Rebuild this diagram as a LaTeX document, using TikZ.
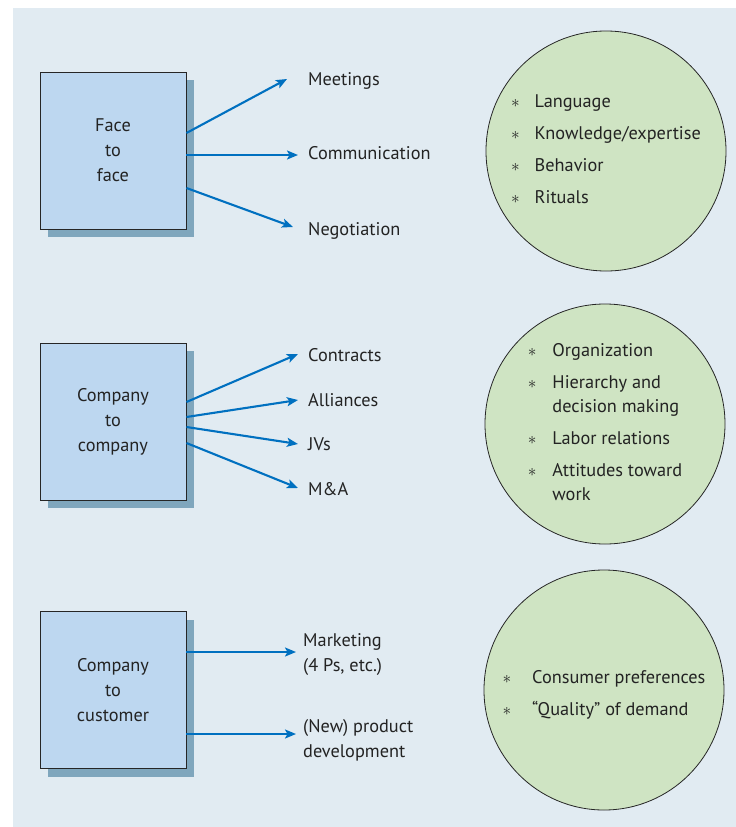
\documentclass[tikz,border=0pt]{standalone}
\usepackage{fontspec}
\setmainfont{PT Sans}
\usetikzlibrary{arrows.meta,calc,shadows}

\definecolor{bgblue}{RGB}{225,235,242}
\definecolor{boxblue}{RGB}{189,215,240}
\definecolor{boxshadow}{RGB}{127,166,189}
\definecolor{arrowblue}{RGB}{0,112,192}
\definecolor{circgreen}{RGB}{207,228,195}
\definecolor{txtgrey}{RGB}{35,35,35}

\begin{document}
\begin{tikzpicture}[x=1pt,y=-1pt,
  level/.style={draw=black!85, line width=0.9pt, fill=boxblue, minimum width=146pt, minimum height=157pt,
    align=center, text=txtgrey, font=\fontsize{18.3}{25}\selectfont,
    drop shadow={shadow xshift=8pt, shadow yshift=-8pt, fill=boxshadow, opacity=1}},
  item/.style={inner sep=0pt, align=left, text=txtgrey, font=\fontsize{18.3}{25}\selectfont},
  flow/.style={draw=arrowblue, line width=2.1pt, -{Stealth[length=11pt,width=9pt,inset=2.5pt]}},
  bubble/.style={circle, draw=black!85, line width=0.8pt, fill=circgreen, minimum size=240pt, inner sep=0pt,
    text=txtgrey, font=\fontsize{18.3}{24}\selectfont}]

\useasboundingbox (0,0) rectangle (736,827);
\fill[bgblue] (13,8) rectangle (736,827);

% face to face
\node[level] (face) at (113,150.5) {Face\\to\\face};
\node[item,anchor=base west] (meet) at (308,85) {Meetings};
\node[item,anchor=base west] (comm) at (308,159) {Communication};
\node[item,anchor=base west] (nego) at (308,235) {Negotiation};
\draw[flow] ([yshift=17.5pt]face.east) -- ([xshift=-21pt,yshift=6pt]meet.base west);
\draw[flow] ([yshift=-4.5pt]face.east) -- ([xshift=-10pt,yshift=4pt]comm.base west);
\draw[flow] ([yshift=-37.5pt]face.east) -- ([xshift=-15pt,yshift=8pt]nego.base west);

% company to company
\node[level] (cocomp) at (113,421.5) {Company\\to\\company};
\node[item,anchor=base west] (contr) at (308,361) {Contracts};
\node[item,anchor=base west] (alli) at (308,406) {Alliances};
\node[item,anchor=base west] (jvs) at (308,450) {JVs};
\node[item,anchor=base west] (ma) at (308,495) {M\&A};
\draw[flow] ([yshift=19.5pt]cocomp.east) -- ([xshift=-10pt,yshift=7pt]contr.base west);
\draw[flow] ([yshift=4.5pt]cocomp.east) -- ([xshift=-10pt,yshift=6pt]alli.base west);
\draw[flow] ([yshift=-5.5pt]cocomp.east) -- ([xshift=-10pt,yshift=6pt]jvs.base west);
\draw[flow] ([yshift=-21.5pt]cocomp.east) -- ([xshift=-10pt,yshift=7pt]ma.base west);

% company to customer
\node[level] (cocust) at (113,690) {Company\\to\\customer};
\node[item,anchor=west] (mark) at (303,655) {Marketing\\(4 Ps, etc.)};
\node[item,anchor=west] (newp) at (303,740) {(New) product\\development};
\draw[flow] ([yshift=38pt]cocust.east) -- ([xshift=-7pt,yshift=3pt]mark.west);
\draw[flow] ([yshift=-44pt]cocust.east) -- ([xshift=-7pt,yshift=6pt]newp.west);

% circles
\node[bubble] (cult) at (606,151) {\begin{tabular}{@{}l@{\hspace{15pt}}l@{}}
  $\ast$ & Language\\[8pt]
  $\ast$ & Knowledge/expertise\\[8pt]
  $\ast$ & Behavior\\[8pt]
  $\ast$ & Rituals
\end{tabular}};
\node[bubble] (org) at (605,424) {\begin{tabular}{@{}l@{\hspace{16pt}}l@{}}
  $\ast$ & Organization\\[8pt]
  $\ast$ & Hierarchy and\\
         & decision making\\[8pt]
  $\ast$ & Labor relations\\[8pt]
  $\ast$ & Attitudes toward\\
         & work
\end{tabular}};
\node[bubble] (cons) at (604,690) {\begin{tabular}{@{}l@{\hspace{21pt}}l@{}}
  \rule{0pt}{27pt}$\ast$ & Consumer preferences\\[8pt]
  $\ast$ & ``Quality'' of demand
\end{tabular}};

\end{tikzpicture}
\end{document}
